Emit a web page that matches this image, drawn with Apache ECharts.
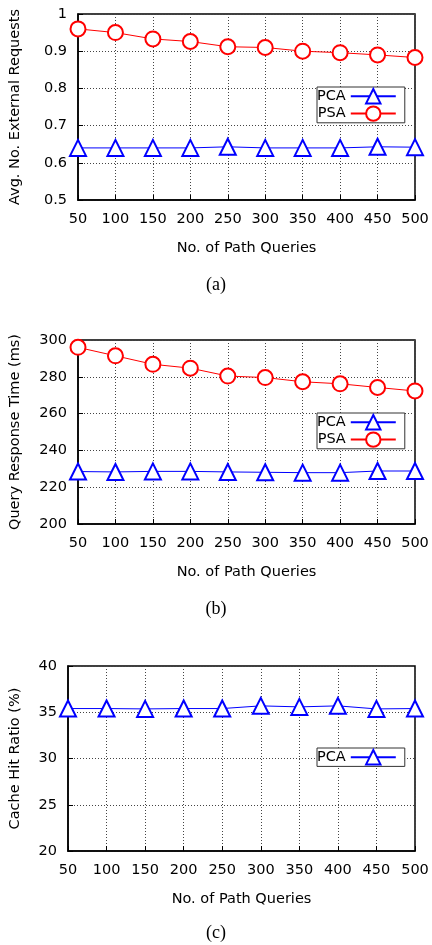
<!DOCTYPE html>
<html>
<head>
<meta charset="utf-8">
<script src="https://cdn.jsdelivr.net/npm/echarts@6/dist/echarts.min.js"></script>
<style>html,body{margin:0;padding:0;background:#fff;}#c{width:432px;height:945px;}</style>
</head>
<body>
<div id="c"></div>
<script>
const categories = ['50','100','150','200','250','300','350','400','450','500'];
const pcaRequests = [0.640,0.640,0.640,0.640,0.643,0.640,0.640,0.640,0.643,0.642];
const psaRequests = [0.960,0.950,0.933,0.926,0.912,0.910,0.900,0.896,0.890,0.883];
const pcaResponse = [228.5,228.3,228.6,228.6,228.3,228.1,227.9,227.9,228.8,228.8];
const psaResponse = [296.0,291.4,286.8,284.7,280.4,279.6,277.3,276.2,274.2,272.3];
const pcaHitRatio = [35.4,35.4,35.36,35.4,35.4,35.69,35.58,35.69,35.36,35.4];
const yNames = ['Avg. No. External Requests','Query Response Time (ms)','Cache Hit Ratio (%)'];
const xName = 'No. of Path Queries';
const captions = ['(a)','(b)','(c)'];

const FONT = 'DejaVu Sans';
const FS = 14.5;
const BLUE = '#0000ff', RED = '#ff0000';

const grids = [
  {left:78, right:17, top:14, height:186},
  {left:78, right:17, top:340, height:184},
  {left:68, right:17, top:666, height:185}
];
const yCfg = [
  {min:0.5, max:1, interval:0.1, gap:55},
  {min:200, max:300, interval:20, gap:55},
  {min:20, max:40, interval:5, gap:45}
];

const axisLineStyle = {color:'#000', width:1.5};
const xAxes = grids.map((g,i)=>({
  type:'category', gridIndex:i, data:categories, boundaryGap:false,
  name:xName, nameLocation:'middle', nameGap:41,
  nameTextStyle:{fontFamily:FONT, fontSize:FS, color:'#000'},
  axisLine:{show:true, lineStyle:axisLineStyle},
  axisTick:{show:true, inside:true, length:5, lineStyle:{color:'#000', width:1}},
  axisLabel:{fontFamily:FONT, fontSize:FS, color:'#000', margin:12, interval:0},
  splitLine:{show:true, lineStyle:{color:'#444', type:[1,2], width:1}}
}));
const yAxes = grids.map((g,i)=>({
  type:'value', gridIndex:i, min:yCfg[i].min, max:yCfg[i].max, interval:yCfg[i].interval,
  name:yNames[i], nameLocation:'middle', nameGap:yCfg[i].gap, nameRotate:90,
  nameTextStyle:{fontFamily:FONT, fontSize:FS, color:'#000'},
  axisLine:{show:true, lineStyle:axisLineStyle},
  axisTick:{show:true, inside:true, length:5, lineStyle:{color:'#000', width:1}},
  axisLabel:{fontFamily:FONT, fontSize:FS, color:'#000', margin:11},
  splitLine:{show:true, lineStyle:{color:'#444', type:[1,2], width:1}}
}));

function mk(name, data, idx, color, symbol, size){
  return {
    name, type:'line', xAxisIndex:idx, yAxisIndex:idx, data,
    symbol, symbolSize:size, showAllSymbol:true,
    lineStyle:{color, width:1},
    itemStyle:{color, borderColor:color, borderWidth:1.5},
    emphasis:{disabled:true}, animation:false
  };
}
const series = [
  mk('PCA', pcaRequests, 0, BLUE, 'emptyTriangle', 16),
  mk('PSA', psaRequests, 0, RED, 'emptyCircle', 15),
  mk('PCA', pcaResponse, 1, BLUE, 'emptyTriangle', 16),
  mk('PSA', psaResponse, 1, RED, 'emptyCircle', 15),
  mk('PCA', pcaHitRatio, 2, BLUE, 'emptyTriangle', 16)
];

const legendBase = {
  orient:'vertical', align:'right', left:317,
  itemWidth:45, itemHeight:18, itemGap:1, padding:[1,8,1,0],
  backgroundColor:'#fff', borderColor:'#333', borderWidth:1,
  textStyle:{fontFamily:FONT, fontSize:FS, color:'#000'},
  selectedMode:false
};
const legends = [
  Object.assign({}, legendBase, {top:87, data:['PCA','PSA']}),
  Object.assign({}, legendBase, {top:413, data:['PCA','PSA']}),
  Object.assign({}, legendBase, {top:748, data:['PCA']})
];

const captionTops = [276, 600, 924];
const titles = captions.map((t,i)=>({
  text:t, left:'center', top:captionTops[i], padding:0,
  textStyle:{fontFamily:'Liberation Serif', fontSize:18, fontWeight:'normal', color:'#000'}
}));

const chart = echarts.init(document.getElementById('c'), null, {renderer:'canvas'});
chart.setOption({
  backgroundColor:'#fff',
  animation:false,
  title:titles,
  grid:grids.map(g=>Object.assign({show:true, borderColor:'#000', borderWidth:1.5, backgroundColor:'transparent'}, g)),
  xAxis:xAxes,
  yAxis:yAxes,
  legend:legends,
  series
});
</script>
</body>
</html>
